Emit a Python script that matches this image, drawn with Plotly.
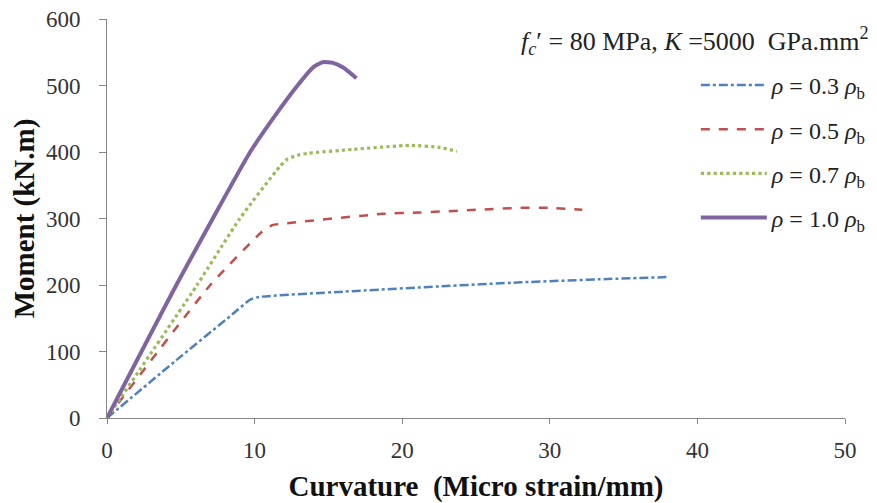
import plotly.graph_objects as go

# Data
x_03 = [0, 4.7, 8.5, 9.7, 10.3, 16.0, 22.6, 28.0, 33.9, 38.1]
y_03 = [0, 87, 156, 178, 182, 190, 198, 204, 209, 212]

x_05 = [0, 7.0, 10.5, 11.2, 12.2, 18.7, 21.2, 25.0, 28.0, 30.0, 32.2]
y_05 = [0, 200, 280, 290, 293, 307, 309, 313, 316, 316, 313]

x_07 = [0, 6.1, 9.0, 11.7, 12.2, 12.9, 13.6, 16.7, 20.5, 22.5, 23.7]
y_07 = [0, 200, 300, 378, 389, 395, 398, 404, 410, 407, 401]

x_10 = [0, 4.7, 9.7, 11.3, 12.8, 14.0, 14.6, 15.3, 16.0, 16.9]
y_10 = [0, 200, 400, 452, 497, 528, 535, 534, 527, 511]

names = [
    "<i>ρ</i> = 0.3 <i>ρ</i><sub>b</sub>",
    "<i>ρ</i> = 0.5 <i>ρ</i><sub>b</sub>",
    "<i>ρ</i> = 0.7 <i>ρ</i><sub>b</sub>",
    "<i>ρ</i> = 1.0 <i>ρ</i><sub>b</sub>",
]
colors = ["#4F81BD", "#C0504D", "#9BBB59", "#8064A2"]
dashes = ["dashdot", "dash", "dot", "solid"]
widths = [2.5, 2.5, 3.2, 4]
xs = [x_03, x_05, x_07, x_10]
ys = [y_03, y_05, y_07, y_10]

x_ticks = [0, 10, 20, 30, 40, 50]
y_ticks = [0, 100, 200, 300, 400, 500, 600]

fig = go.Figure()
for i in range(4):
    fig.add_trace(go.Scatter(
        x=xs[i], y=ys[i], mode="lines", name=names[i],
        legendgroup=f"g{i}",
        line=dict(color=colors[i], dash=dashes[i], width=widths[i], shape="spline", smoothing=0.5),
    ))

serif = "Liberation Serif"

fig.update_layout(
    width=861, height=495,
    margin=dict(l=99, r=24, t=11, b=85, autoexpand=False),
    paper_bgcolor="white", plot_bgcolor="white",
    font=dict(family=serif, color="#222222"),
    showlegend=True,
    legend=dict(
        x=1.035, y=0.89, xanchor="right", yanchor="top",
        font=dict(family=serif, size=24, color="#222222"),
        tracegroupgap=10, bgcolor="rgba(0,0,0,0)", itemwidth=66,
    ),
    xaxis=dict(
        range=[0, 50], tickvals=x_ticks, ticktext=[str(v) for v in x_ticks],
        showgrid=False, zeroline=False, showline=True, linecolor="#868686", linewidth=1,
        ticks="outside", ticklen=5, tickcolor="#868686", automargin=False,
        ticklabelstandoff=6, ticklabeloverflow="allow",
        tickfont=dict(family=serif, size=23, color="#333333"),
        title=dict(text="<b>Curvature  (Micro strain/mm)</b>",
                   font=dict(family=serif, size=29, color="#111111"), standoff=20),
    ),
    yaxis=dict(
        range=[0, 600], tickvals=y_ticks, ticktext=[str(v) for v in y_ticks],
        showgrid=False, zeroline=False, showline=True, linecolor="#868686", linewidth=1,
        ticks="outside", ticklen=7, tickcolor="#868686", automargin=False,
        ticklabelstandoff=14, ticklabeloverflow="allow",
        tickfont=dict(family=serif, size=23, color="#333333"),
        title=dict(text="<b>Moment (kN.m)</b>",
                   font=dict(family=serif, size=29, color="#111111"), standoff=8),
    ),
    annotations=[dict(
        xref="paper", yref="paper", x=1.035, y=0.945, xanchor="right", yanchor="middle",
        text="<i>f</i><sub><i>c</i></sub>′ = 80 MPa, <i>K</i> =5000  GPa.mm<sup>2</sup>",
        showarrow=False, font=dict(family=serif, size=26, color="#222222"),
    )],
)

fig.write_html("out.html")
